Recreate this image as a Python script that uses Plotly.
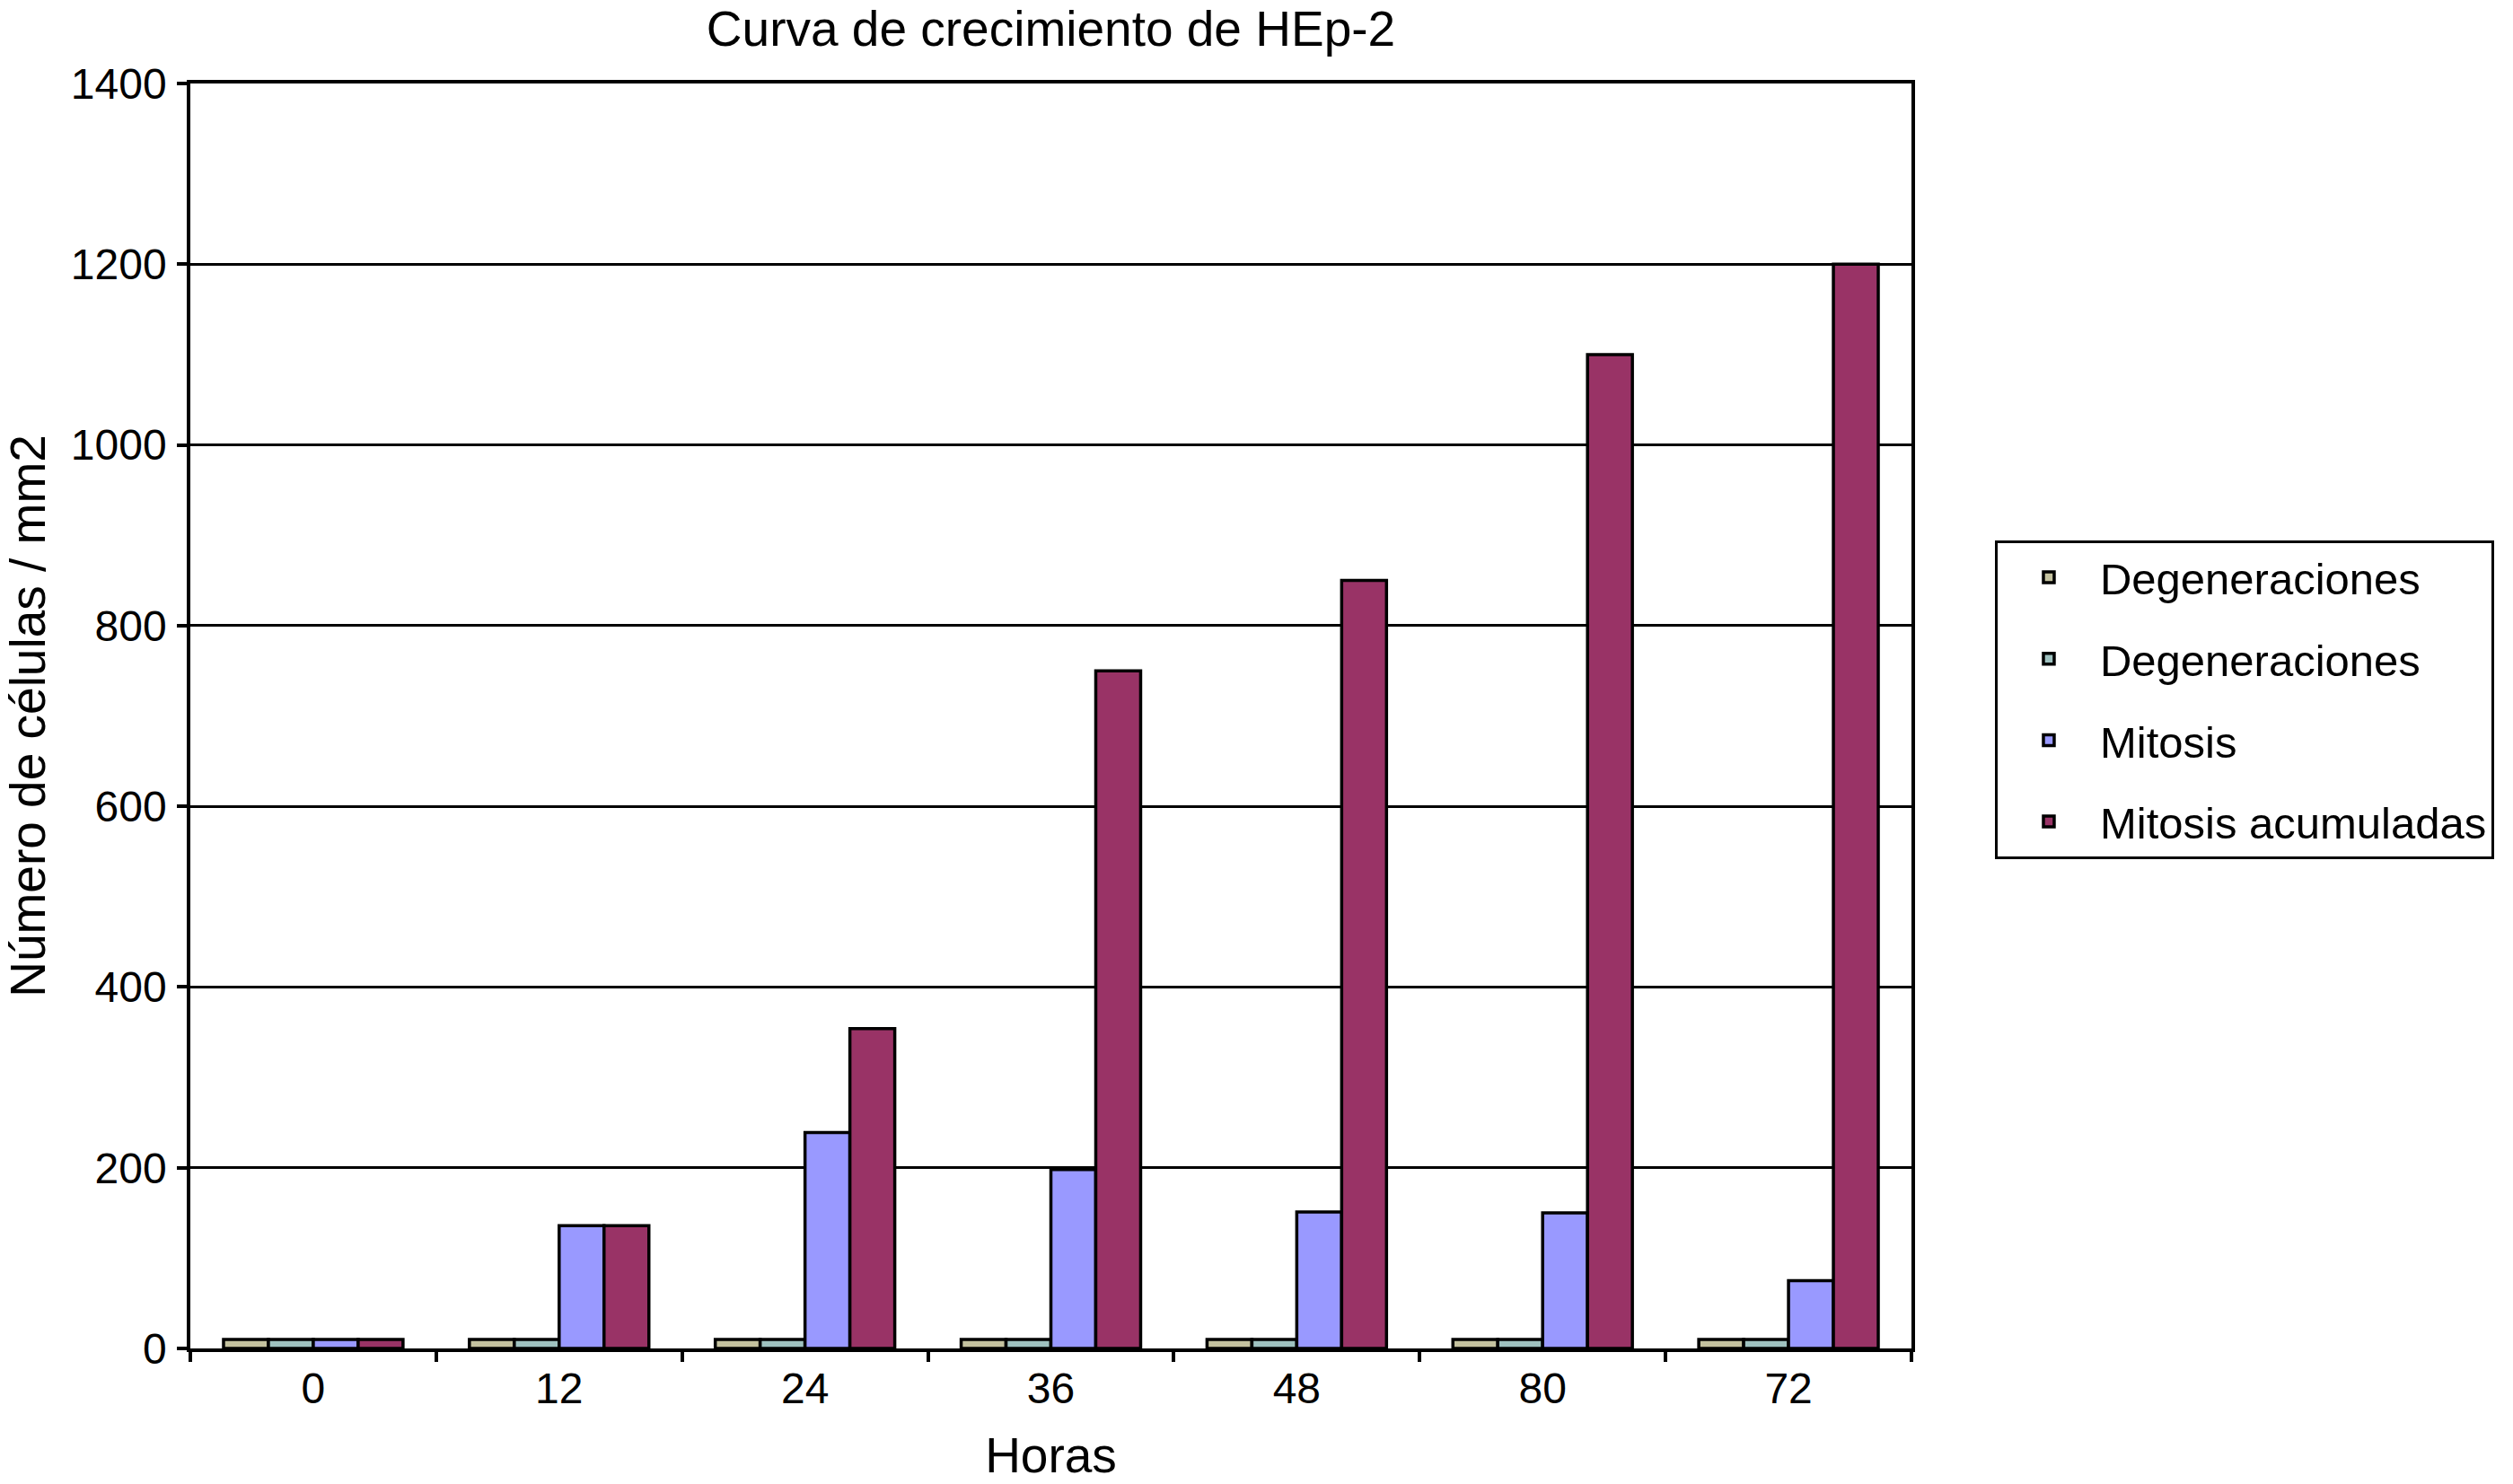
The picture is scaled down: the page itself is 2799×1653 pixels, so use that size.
import plotly.graph_objects as go

horas = ["0", "12", "24", "36", "48", "80", "72"]
degeneraciones_1 = [10, 10, 10, 10, 10, 10, 10]
degeneraciones_2 = [10, 10, 10, 10, 10, 10, 10]
mitosis = [10, 136, 239, 198, 151, 150, 75]
mitosis_acumuladas = [10, 136, 354, 750, 850, 1100, 1200]

series = [
    ("Degeneraciones", degeneraciones_1, "#C4C29F"),
    ("Degeneraciones", degeneraciones_2, "#9FC2C0"),
    ("Mitosis", mitosis, "#9999FF"),
    ("Mitosis acumuladas", mitosis_acumuladas, "#993366"),
]

FONT = "Liberation Sans, Arial, sans-serif"

fig = go.Figure()
for i, (name, vals, col) in enumerate(series):
    fig.add_trace(go.Bar(
        x=horas, y=vals, name=name,
        marker=dict(color=col, line=dict(color="black", width=3.5)),
        legendgroup=f"g{i}",
    ))

fig.update_layout(
    width=2799, height=1653,
    paper_bgcolor="white", plot_bgcolor="white",
    barmode="group", bargap=0.27, bargroupgap=0,
    margin=dict(l=212, r=670, t=93, b=151, autoexpand=False),
    font=dict(family=FONT, size=48, color="black"),
    title=dict(text="Curva de crecimiento de HEp-2", x=0.5, xref="paper",
               xanchor="center", y=1 - 32 / 1653, yanchor="middle",
               font=dict(size=55), automargin=False),
    showlegend=True,
    legend=dict(x=1.0485, xanchor="left", y=0.639, yanchor="top",
                bordercolor="black", borderwidth=3, bgcolor="white",
                tracegroupgap=24, font=dict(size=49),
                itemwidth=104),
    xaxis=dict(
        title=dict(text="Horas", standoff=30, font=dict(size=55)),
        automargin=False,
        type="category", tickson="boundaries", ticks="outside", ticklen=11,
        tickwidth=3.5, tickcolor="black",
        showline=True, linecolor="black", linewidth=3.5, mirror=True,
        showgrid=False, ticklabelstandoff=0,
    ),
    yaxis=dict(
        title=dict(text="Número de células / mm2", standoff=18, font=dict(size=55)),
        automargin=False,
        range=[0, 1400], dtick=200, ticks="outside", ticklen=11, tickwidth=3.5,
        tickcolor="black",
        showline=True, linecolor="black", linewidth=3.5, mirror=True,
        showgrid=True, gridcolor="black", gridwidth=3,
        zeroline=False, ticklabelstandoff=2,
    ),
)

fig.write_html("out.html",
               config={"displayModeBar": False},
               post_script="document.body.style.margin='0';document.body.style.overflow='hidden';")
